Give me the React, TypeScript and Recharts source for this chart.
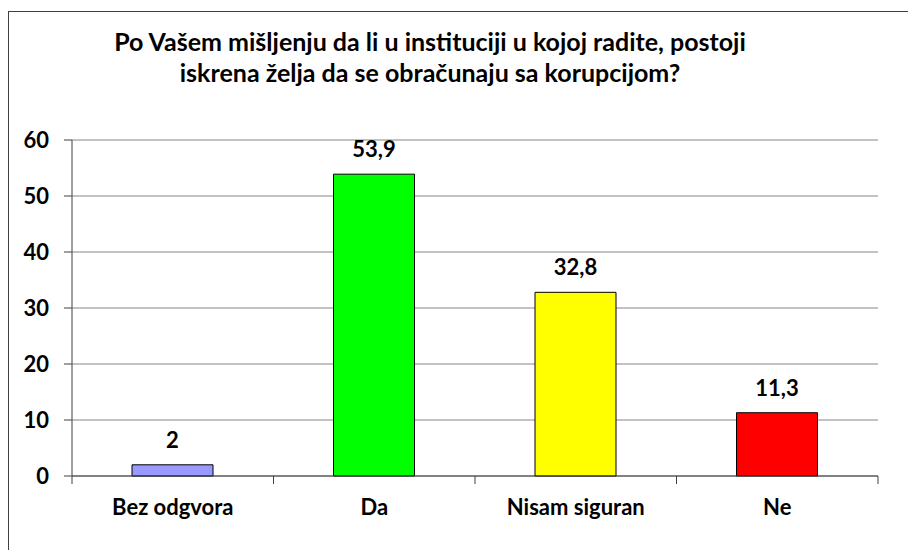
import { Bar, BarChart, CartesianGrid, Cell, LabelList, XAxis, YAxis } from "recharts";

const categories = ["Bez odgvora", "Da", "Nisam siguran", "Ne"];
const percentages = [2, 53.9, 32.8, 11.3];
const barColors = ["#9999FF", "#00FF00", "#FFFF00", "#FF0000"];
const yTicks = [0, 10, 20, 30, 40, 50, 60];

const TITLE_LINES = [
  "Po Vašem mišljenju da li u instituciji u kojoj radite, postoji",
  "iskrena želja da se obračunaju sa korupcijom?",
];

const FONT = "Lato, 'Open Sans', sans-serif";
const CHART_W = 899;
const CHART_H = 538;
const MARGIN = { top: 128, right: 30, bottom: 44, left: 0 };
const Y_AXIS_W = 63;
// half of one category band, used to put x ticks on band boundaries like Excel does
const HALF_BAND = (CHART_W - MARGIN.left - Y_AXIS_W - MARGIN.right) / categories.length / 2;

const data = categories.map((name, i) => ({ name, value: percentages[i] }));

function CategoryTick({ x, y, payload, index }: any) {
  const isLast = index === categories.length - 1;
  return (
    <g>
      <line x1={x - HALF_BAND} x2={x - HALF_BAND} y1={y} y2={y + 8} stroke="#404040" />
      {isLast && <line x1={x + HALF_BAND} x2={x + HALF_BAND} y1={y} y2={y + 8} stroke="#404040" />}
      <text x={x} y={y + 31} dy="0.35em" textAnchor="middle" fill="#000" fontWeight={700} fontSize={22} fontFamily={FONT}>
        {payload.value}
      </text>
    </g>
  );
}

function formatValue(v: number) {
  return String(v).replace(".", ",");
}

export default function App() {
  return (
    <div
      style={{
        position: "absolute",
        left: 8,
        top: 11,
        width: 900,
        height: 539,
        boxSizing: "border-box",
        borderLeft: "1px solid #404040",
        borderTop: "1px solid #404040",
        background: "#fff",
      }}
    >
      <div
        style={{
          position: "absolute",
          left: -1,
          top: 14,
          width: 844,
          textAlign: "center",
          fontFamily: FONT,
          fontWeight: 700,
          fontSize: 25,
          lineHeight: "31px",
          color: "#000",
        }}
      >
        {TITLE_LINES.map((line) => (
          <div key={line}>{line}</div>
        ))}
      </div>
      <BarChart width={CHART_W} height={CHART_H} data={data} margin={MARGIN}>
        <CartesianGrid vertical={false} stroke="#868686" yAxisId="left" />
        <XAxis
          dataKey="name"
          axisLine={{ stroke: "#404040" }}
          tickLine={false}
          tickSize={0}
          tickMargin={0}
          height={30}
          interval={0}
          tick={<CategoryTick />}
        />
        <YAxis
          yAxisId="left"
          domain={[0, 60]}
          ticks={yTicks}
          width={Y_AXIS_W}
          axisLine={{ stroke: "#404040" }}
          tickLine={{ stroke: "#404040" }}
          tickSize={8}
          tickMargin={15}
          tick={{ fill: "#000", fontSize: 22, fontWeight: 700, fontFamily: FONT }}
        />
        <YAxis
          yAxisId="right"
          orientation="right"
          domain={[0, 60]}
          width={0}
          tick={false}
          tickLine={false}
          axisLine={{ stroke: "#868686" }}
        />
        <Bar yAxisId="left" dataKey="value" barSize={81} stroke="#000" strokeWidth={1} isAnimationActive={false}>
          {data.map((d, i) => (
            <Cell key={d.name} fill={barColors[i]} />
          ))}
          <LabelList
            dataKey="value"
            position="top"
            offset={17}
            formatter={(v: any) => formatValue(v)}
            fill="#000"
            fontSize={22}
            fontWeight={700}
            fontFamily={FONT}
          />
        </Bar>
      </BarChart>
    </div>
  );
}
